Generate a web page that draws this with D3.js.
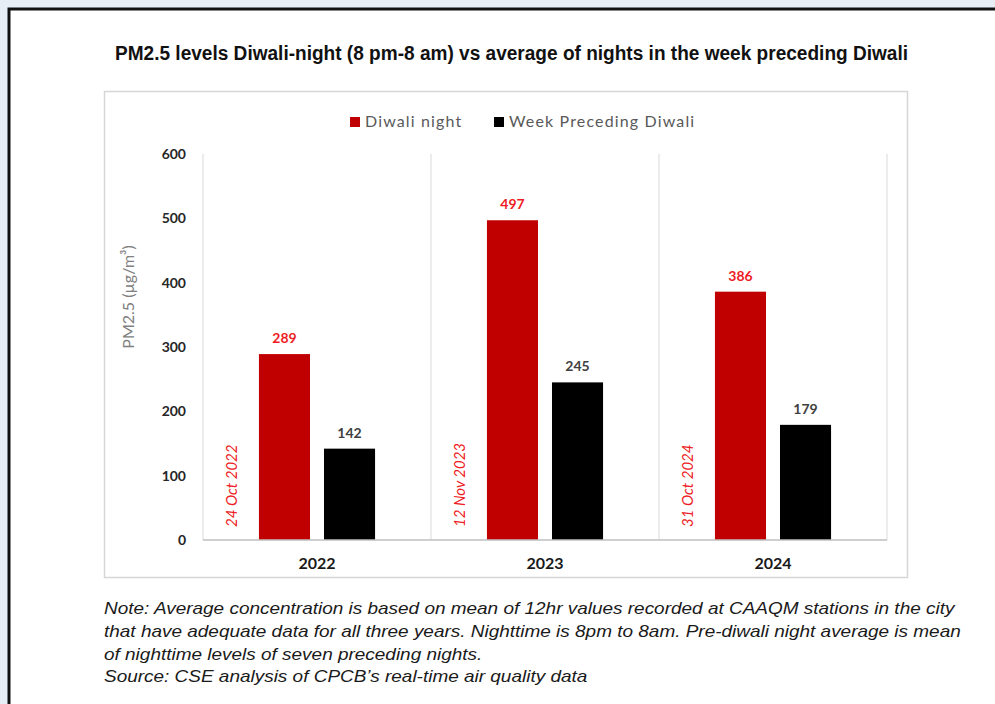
<!DOCTYPE html>
<html>
<head>
<meta charset="utf-8">
<script src="https://cdn.jsdelivr.net/npm/d3@7"></script>
<style>
    body { margin: 0; background: #e8eef6; }
    #chart { width: 995px; height: 704px; }
</style>
</head>
<body>
<div id="chart"></div>
<script>
// values
const years = ["2022", "2023", "2024"];
const seriesNames = ["Diwali night", "Week Preceding Diwali"];
const diwaliNight = [289, 497, 386];
const weekPreceding = [142, 245, 179];
const diwaliDates = ["24 Oct 2022", "12 Nov 2023", "31 Oct 2024"];
const yTicks = [0, 100, 200, 300, 400, 500, 600];

const COLORS = { "Diwali night": "#c00000", "Week Preceding Diwali": "#000000" };
const LABEL_COLORS = { "Diwali night": "#ee1c25", "Week Preceding Diwali": "#404040" };

const noteLines = [
    "Note: Average concentration is based on mean of 12hr values recorded at CAAQM stations in the city",
    "that have adequate data for all three years. Nighttime is 8pm to 8am. Pre-diwali night average is mean",
    "of nighttime levels of seven preceding nights.",
    "Source: CSE analysis of CPCB’s real-time air quality data"
];

const W = 995, H = 704;
const plot = { left: 203, right: 887, top: 154, bottom: 540 };

const svg = d3.select("#chart").append("svg")
    .attr("width", W)
    .attr("height", H);

// page frame: white panel with dark left/top border
svg.append("rect")
    .attr("x", 9).attr("y", 9)
    .attr("width", W).attr("height", H)
    .attr("fill", "#fff")
    .attr("stroke", "#111")
    .attr("stroke-width", 3);

svg.append("text")
    .attr("x", 115).attr("y", 60)
    .attr("textLength", 793)
    .attr("lengthAdjust", "spacingAndGlyphs")
    .attr("font-family", "Liberation Sans, Arial, sans-serif")
    .attr("font-weight", "bold")
    .attr("font-size", 20)
    .attr("fill", "#111")
    .text("PM2.5 levels Diwali-night (8 pm-8 am) vs average of nights in the week preceding Diwali");

// chart box
svg.append("rect")
    .attr("x", 104.5).attr("y", 91.5)
    .attr("width", 803).attr("height", 486)
    .attr("fill", "#fff")
    .attr("stroke", "#d6d6d6")
    .attr("stroke-width", 1.5);

const x0 = d3.scaleBand()
    .domain(years)
    .range([plot.left, plot.right])
    .padding(0);

const x1 = d3.scaleBand()
    .domain(seriesNames)
    .range([0, x0.bandwidth()])
    .paddingInner(0.215)
    .paddingOuter(0.86);

const y = d3.scaleLinear()
    .domain([0, 600])
    .range([plot.bottom, plot.top]);

// category separators
svg.append("g")
    .selectAll("line")
    .data([...years.map(d => x0(d)), plot.right])
    .join("line")
    .attr("x1", d => d).attr("x2", d => d)
    .attr("y1", y(600)).attr("y2", y(0))
    .attr("stroke", "#d9d9d9")
    .attr("stroke-width", 1);

// y axis ticks
const yAxis = svg.append("g")
    .attr("transform", `translate(${plot.left}, 0)`)
    .call(d3.axisLeft(y).tickValues(yTicks).tickSize(0).tickPadding(17));
yAxis.select(".domain").remove();
yAxis.selectAll("text")
    .attr("font-family", "Lato, Open Sans, sans-serif")
    .attr("font-weight", "bold")
    .attr("font-size", 14)
    .attr("fill", "#262626");

// y axis title
svg.append("text")
    .attr("transform", `translate(134, 297) rotate(-90)`)
    .attr("text-anchor", "middle")
    .attr("font-family", "Lato, Open Sans, sans-serif")
    .attr("font-size", 16)
    .attr("fill", "#808080")
    .text("PM2.5 (µg/m³)");

const rows = years.map((yr, i) => ({
    year: yr,
    values: [
        { name: seriesNames[0], value: diwaliNight[i] },
        { name: seriesNames[1], value: weekPreceding[i] }
    ]
}));

const groups = svg.append("g")
    .selectAll("g")
    .data(rows)
    .join("g")
    .attr("transform", d => `translate(${x0(d.year)}, 0)`);

groups.selectAll("rect")
    .data(d => d.values)
    .join("rect")
    .attr("x", d => x1(d.name))
    .attr("y", d => y(d.value))
    .attr("width", x1.bandwidth())
    .attr("height", d => y(0) - y(d.value))
    .attr("fill", d => COLORS[d.name]);

groups.selectAll("text.value")
    .data(d => d.values)
    .join("text")
    .attr("class", "value")
    .attr("x", d => x1(d.name) + x1.bandwidth() / 2)
    .attr("y", d => y(d.value) - 11)
    .attr("text-anchor", "middle")
    .attr("font-family", "Lato, Open Sans, sans-serif")
    .attr("font-weight", "bold")
    .attr("font-size", 14)
    .attr("fill", d => LABEL_COLORS[d.name])
    .text(d => d.value);

// dates, rotated
groups.append("text")
    .attr("transform", `translate(30, ${y(0) - 13}) rotate(-90)`)
    .attr("dominant-baseline", "middle")
    .attr("font-family", "Lato, Open Sans, sans-serif")
    .attr("font-style", "italic")
    .attr("font-size", 15)
    .attr("fill", "#ee1c25")
    .text((d, i) => diwaliDates[i]);

// baseline
svg.append("line")
    .attr("x1", plot.left).attr("x2", plot.right)
    .attr("y1", y(0)).attr("y2", y(0))
    .attr("stroke", "#bfbfbf")
    .attr("stroke-width", 1.5);

// category labels
svg.append("g")
    .selectAll("text")
    .data(years)
    .join("text")
    .attr("x", d => x0(d) + x0.bandwidth() / 2)
    .attr("y", 569)
    .attr("text-anchor", "middle")
    .attr("font-family", "Lato, Open Sans, sans-serif")
    .attr("font-weight", "bold")
    .attr("font-size", 16)
    .attr("fill", "#1a1a1a")
    .text(d => d);

// legend
const legendX = [350, 494];
const legend = svg.append("g")
    .selectAll("g")
    .data(seriesNames)
    .join("g")
    .attr("transform", (d, i) => `translate(${legendX[i]}, 117)`);

legend.append("rect")
    .attr("width", 10).attr("height", 10)
    .attr("fill", d => COLORS[d]);

legend.append("text")
    .attr("x", 15).attr("y", 10)
    .attr("font-family", "Lato, Open Sans, sans-serif")
    .attr("font-size", 16)
    .attr("letter-spacing", 1.15)
    .attr("fill", "#595959")
    .text(d => d);

// note, slightly stretched like the source image
svg.append("g")
    .selectAll("text")
    .data(noteLines)
    .join("text")
    .attr("transform", (d, i) => `translate(104, ${614 + i * 22.8}) scale(1.157, 1)`)
    .attr("font-family", "Liberation Sans, Arial, sans-serif")
    .attr("font-style", "italic")
    .attr("font-size", 16.4)
    .attr("fill", "#1a1a1a")
    .text(d => d);
</script>
</body>
</html>
